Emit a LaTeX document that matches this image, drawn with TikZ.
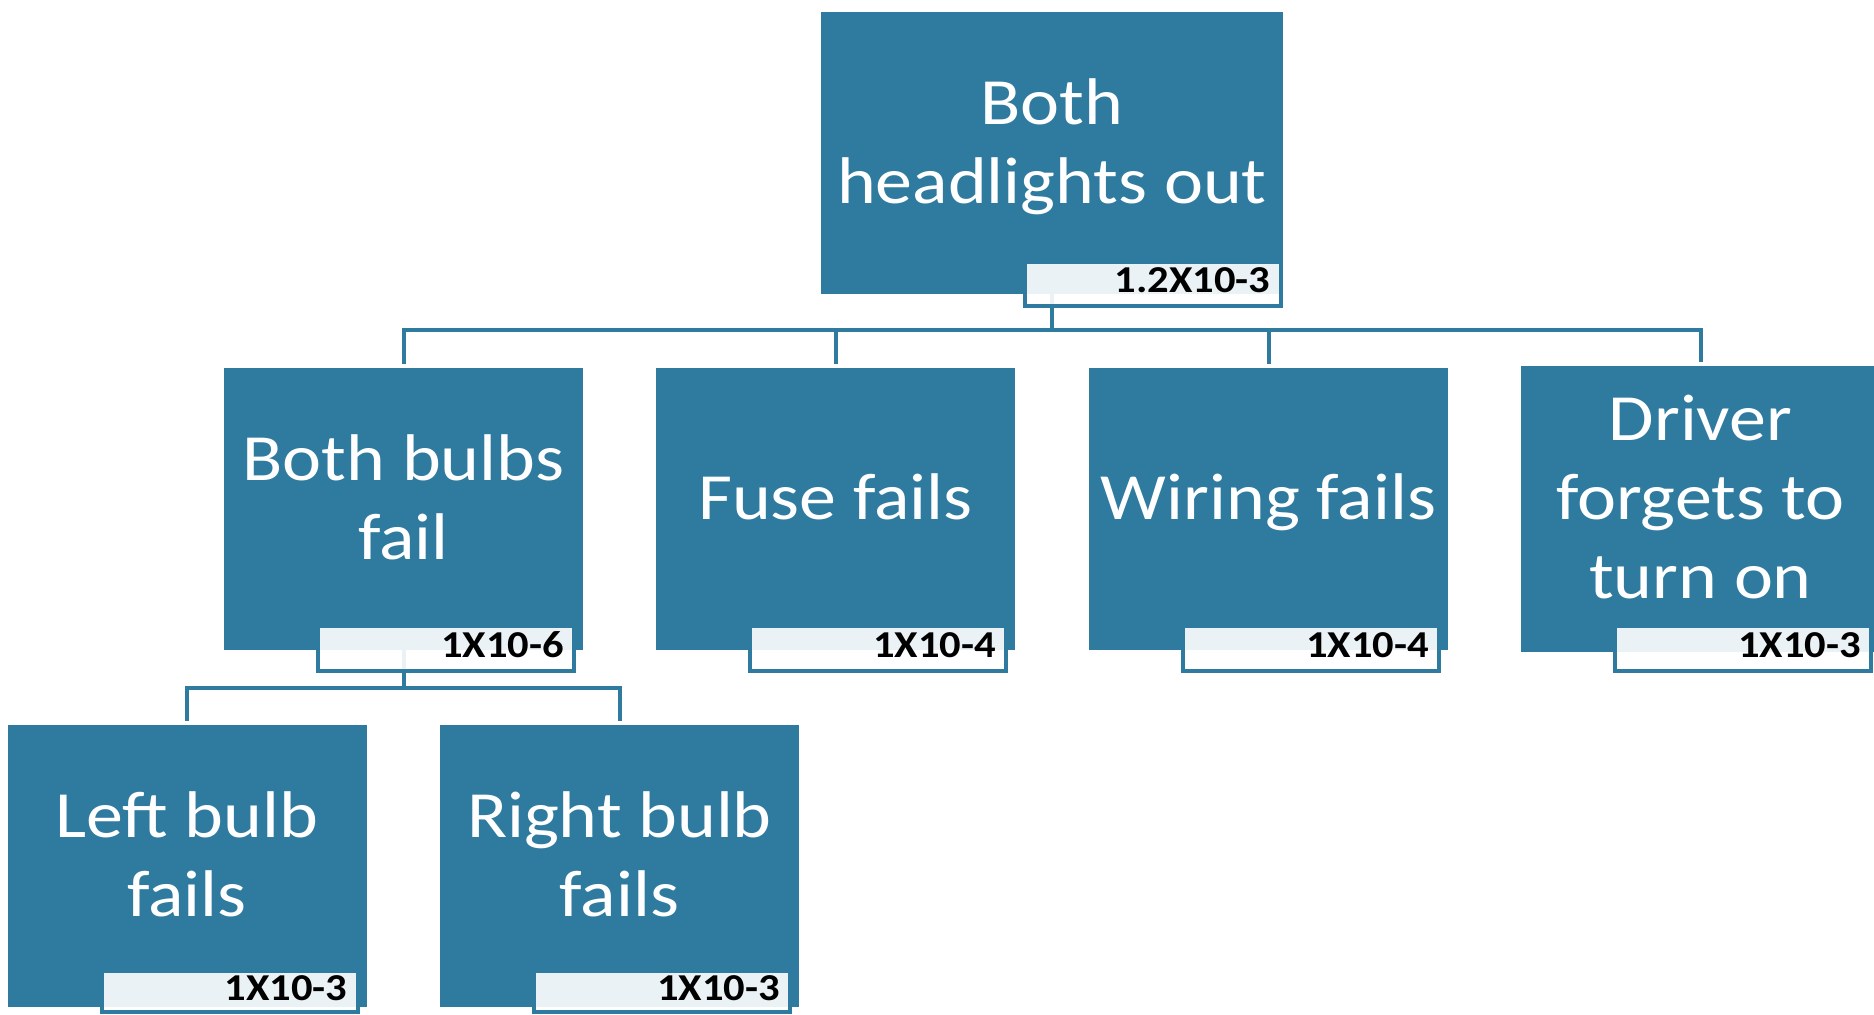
\documentclass[tikz,border=0pt]{standalone}
\usepackage{fontspec}
\newfontfamily\boxfont[FakeStretch=1.12]{Carlito}
\newfontfamily\tagfontfam[FakeStretch=1.12]{Carlito}
\definecolor{ftteal}{HTML}{2F7B9F}
% struts that fix the first baseline and last depth of an event's text
\newcommand\upstrut{\rule{0pt}{37.4pt}}
\newcommand\downstrut{\rule[-26.4pt]{0pt}{26.4pt}}
\tikzset{
  event/.style={fill=ftteal, inner sep=0pt, text=white, align=center,
    font={\boxfont\fontsize{33}{39.5}\selectfont}, minimum height=141pt},
  topwide/.style={minimum width=231pt},
  std/.style={minimum width=179.5pt},
  prob/.style={draw=ftteal, line width=2pt, fill=white, fill opacity=0.9,
    text opacity=1, text=black,
    font={\tagfontfam\bfseries\fontsize{19}{22}\selectfont},
    inner xsep=0pt, inner ysep=0pt, minimum width=128pt, text width=118pt,
    align=right, text height=11pt, text depth=2pt},
  link/.style={draw=ftteal, line width=2pt},
}
\begin{document}
\begin{tikzpicture}[x=0.5pt, y=-0.5pt]
\useasboundingbox (0,0) rectangle (1874,1015);
\clip (0,0) rectangle (1874,1015);
\fill[white] (0,0) rectangle (1874,1015);

% events
\node[event, topwide] (top) at (1052,153) {\upstrut Both\\headlights out\downstrut};
\node[event, std] (bulbs) at (403.5,509) {\upstrut Both bulbs\\fail\downstrut};
\node[event, std] (fuse) at (835.5,509) {\upstrut Fuse fails\downstrut};
\node[event, std] (wiring) at (1268.5,509) {\upstrut Wiring fails\downstrut};
\node[event, std] (driver) at (1700.5,509) {\upstrut Driver\\forgets to\\turn on\downstrut};
\node[event, std] (leftb) at (187,866) {\upstrut Left bulb\\fails\downstrut};
\node[event, std] (rightb) at (619.5,866) {\upstrut Right bulb\\fails\downstrut};

% tree connectors
\coordinate (j0) at (1052,330);
\coordinate (j1) at (403.5,688);
\draw[link] (top.south) -- (j0);
\draw[link, shorten >=2pt] (j0) -| (bulbs.north);
\draw[link, shorten >=2pt] (j0) -| (driver.north);
\draw[link, shorten >=2pt] (fuse.north |- j0) -- (fuse.north);
\draw[link, shorten >=2pt] (wiring.north |- j0) -- (wiring.north);
\draw[link] (bulbs.south) -- (j1);
\draw[link, shorten >=2pt] (j1) -| (leftb.north);
\draw[link, shorten >=2pt] (j1) -| (rightb.north);

% probabilities
\node[prob, minimum height=22pt] (top-p) at (1152.5,284) {1.2X10-3};
\node[prob, minimum height=22.5pt] (bulbs-p) at (446,648.5) {1X10-6};
\node[prob, minimum height=22.5pt] (fuse-p) at (878,648.5) {1X10-4};
\node[prob, minimum height=22.5pt] (wiring-p) at (1311,648.5) {1X10-4};
\node[prob, minimum height=22.5pt] (driver-p) at (1743,648.5) {1X10-3};
\node[prob, minimum height=20.5pt] (leftb-p) at (229.5,991.5) {1X10-3};
\node[prob, minimum height=20.5pt] (rightb-p) at (662,991.5) {1X10-3};
\end{tikzpicture}
\end{document}
